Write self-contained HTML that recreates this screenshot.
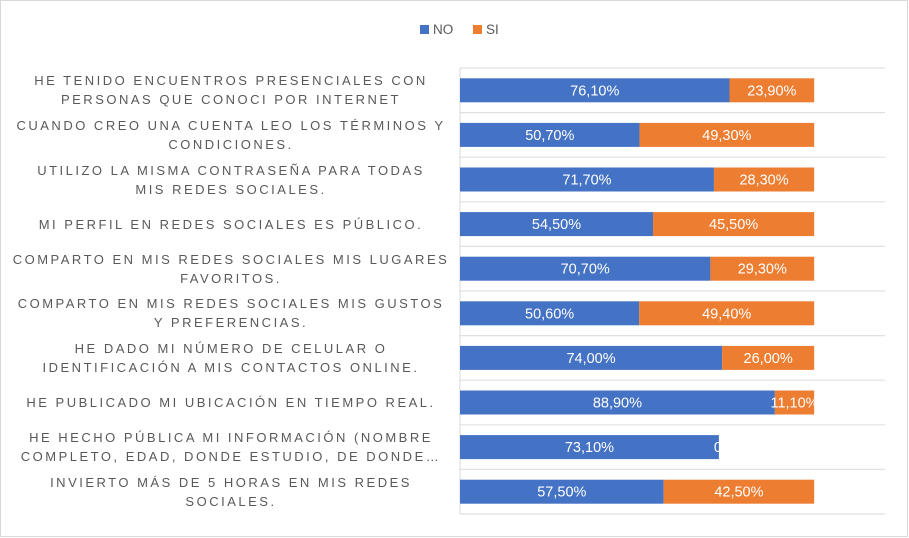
<!DOCTYPE html>
<html><head><meta charset="utf-8"><style>
body{margin:0;background:#fff;}
#wrap{position:relative;width:909px;height:538px;font-family:"Liberation Sans",sans-serif;overflow:hidden;}
#frame{position:absolute;left:0;top:0;width:906px;height:535px;border:1px solid #d9d9d9;}
.lbl{position:absolute;left:8px;width:446px;text-align:center;color:#595959;font-size:13px;letter-spacing:2.5px;line-height:19px;}
</style></head><body>
<div id="wrap">
<div id="frame"></div>
<svg id="svg" width="909" height="538" style="position:absolute;left:0;top:0"></svg>
<div id="labels"></div>
</div>
<script>
const categories=["HE TENIDO ENCUENTROS PRESENCIALES CON<br>PERSONAS QUE CONOCI POR INTERNET","CUANDO CREO UNA CUENTA LEO LOS TÉRMINOS Y<br>CONDICIONES.","UTILIZO LA MISMA CONTRASEÑA PARA TODAS<br>MIS REDES SOCIALES.","MI PERFIL EN REDES SOCIALES ES PÚBLICO.","COMPARTO EN MIS REDES SOCIALES MIS LUGARES<br>FAVORITOS.","COMPARTO EN MIS REDES SOCIALES MIS GUSTOS<br>Y PREFERENCIAS.","HE DADO MI NÚMERO DE CELULAR O<br>IDENTIFICACIÓN  A MIS CONTACTOS ONLINE.","HE PUBLICADO MI UBICACIÓN EN TIEMPO REAL.","HE HECHO PÚBLICA MI INFORMACIÓN (NOMBRE<br>COMPLETO, EDAD, DONDE ESTUDIO, DE DONDE…","INVIERTO MÁS DE 5 HORAS EN MIS REDES<br>SOCIALES."];
const noValues=[76.1,50.7,71.7,54.5,70.7,50.6,74.0,88.9,73.1,57.5];
const siValues=[23.9,49.3,28.3,45.5,29.3,49.4,26.0,11.1,0,42.5];
const axisMax=120;
const ns="http://www.w3.org/2000/svg";
const svg=document.getElementById('svg');
const X0=460,X1=885,Y0=68,Y1=514;
const xs=v=>X0+(X1-X0)*v/axisMax;
const band=(Y1-Y0)/categories.length;
const yc=i=>Y0+band*(i+0.5);
function mk(t,a){const e=document.createElementNS(ns,t);for(const k in a)e.setAttribute(k,a[k]);svg.appendChild(e);return e;}
const fmt=v=>v.toFixed(2).replace('.',',')+'%';
for(let i=0;i<=categories.length;i++){
 const g=mk('line',{x1:X0,x2:X1,y1:Y0+band*i,y2:Y0+band*i,stroke:'#e0e0e0','stroke-width':1.2});
 
 
}
const ax=mk('line',{x1:X0,x2:X0,y1:Y0,y2:Y1,stroke:'#d9d9d9','stroke-width':1});


categories.forEach((c,i)=>{
 const y=yc(i)-12,h=24;
 const xn=xs(noValues[i]),xe=xs(noValues[i]+siValues[i]);
 const b1=mk('rect',{x:X0,y:y,width:xn-X0,height:h,fill:'#4472C4'});
 
 
 const b2=mk('rect',{x:xn,y:y,width:xe-xn,height:h,fill:'#ED7D31'});
 
 
 const t1=mk('text',{x:(X0+xn)/2,y:yc(i)+5,'text-anchor':'middle',fill:'#fff','font-size':14.5,'font-family':'Liberation Sans, sans-serif'});
 t1.textContent=fmt(noValues[i]);
 
 
 const cp=mk('clipPath',{id:'cp'+i});
 const cr=document.createElementNS(ns,'rect');
 cr.setAttribute('x',0);cr.setAttribute('y',y);cr.setAttribute('width',Math.max(xe,xn+2));cr.setAttribute('height',h);
 cp.appendChild(cr);
 const t2=mk('text',{x:siValues[i]>0?(xn+xe)/2:xn-5,y:yc(i)+5,'text-anchor':siValues[i]>0?'middle':'start',fill:'#fff','font-size':14.5,'font-family':'Liberation Sans, sans-serif','clip-path':'url(#cp'+i+')'});
 t2.textContent=siValues[i]>0?fmt(siValues[i]):'0';
 
 
 const d=document.createElement('div');
 d.className='lbl';
 d.innerHTML=c;
 const lines=c.split('<br>').length;
 d.style.top=(yc(i)-lines*19/2)+'px';
 
 
 document.getElementById('labels').appendChild(d);
});
const legend=[['NO','#4472C4',420],['SI','#ED7D31',473]];
legend.forEach(l=>{
 const r=mk('rect',{x:l[2],y:25,width:9,height:9,fill:l[1]});
 
 
 const t=mk('text',{x:l[2]+13,y:34,fill:'#595959','font-size':13.5,'font-family':'Liberation Sans, sans-serif'});
 t.textContent=l[0];
 
 
});
</script>
</body></html>
